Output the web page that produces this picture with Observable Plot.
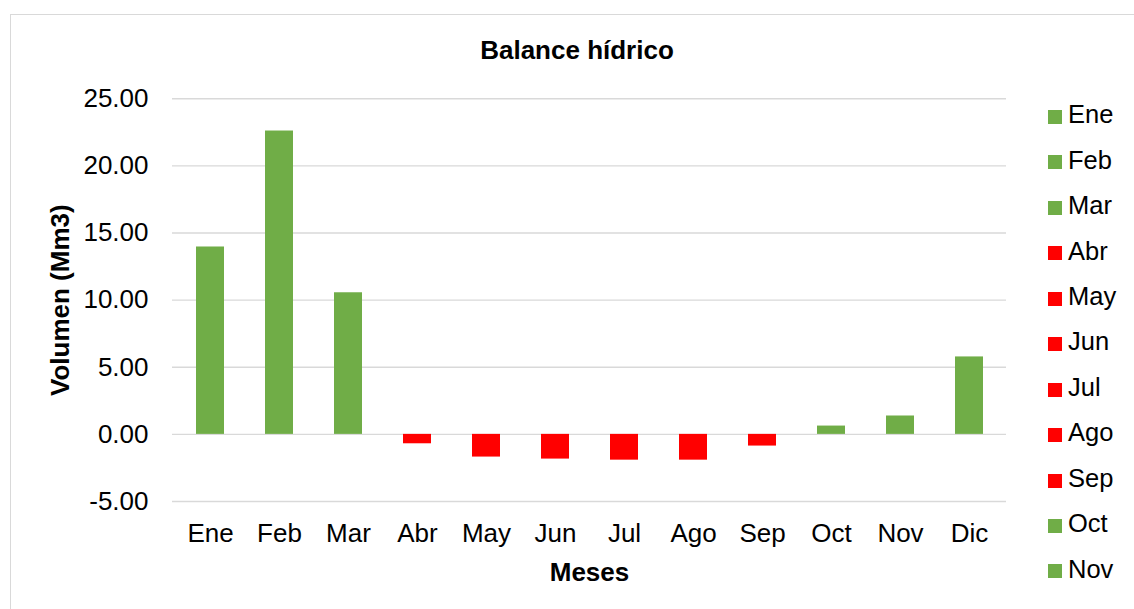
<!DOCTYPE html>
<html>
<head>
<meta charset="utf-8">
<script src="https://cdn.jsdelivr.net/npm/d3@7"></script>
<script src="https://cdn.jsdelivr.net/npm/@observablehq/plot@0.6"></script>
<style>
  html, body { margin: 0; padding: 0; background: #fff; }
  body { width: 1134px; height: 609px; overflow: hidden; position: relative;
         font-family: "Liberation Sans", Arial, sans-serif; color: #000; }
  #frame { position: absolute; left: 10px; top: 14px; width: 1200px; height: 700px;
           border: 1.5px solid #d9d9d9; box-sizing: border-box; }
  #chart { position: absolute; left: 0; top: 0; }
  #title { position: absolute; left: 0; top: 37px; width: 1154px; text-align: center;
           font-weight: bold; font-size: 26px; line-height: 1; margin: 0; }
  #legend { position: absolute; left: 1048px; top: 94.3px; }
  .item { display: flex; align-items: center; height: 45.45px; font-size: 25.5px; line-height: 1; }
  .sw { width: 14px; height: 14px; margin-right: 6px; flex: none; }
  .lab { position: relative; top: -2px; white-space: nowrap; }
</style>
</head>
<body>
<div id="frame"></div>
<div id="chart"></div>
<div id="title">Balance hídrico</div>
<div id="legend"></div>
<script>
const months = ["Ene", "Feb", "Mar", "Abr", "May", "Jun", "Jul", "Ago", "Sep", "Oct", "Nov", "Dic"];
const values = [13.96, 22.6, 10.55, -0.7, -1.69, -1.84, -1.92, -1.92, -0.87, 0.62, 1.37, 5.77];
const yTicks = [-5, 0, 5, 10, 15, 20, 25];
// legend entries visible in the reference (the last one is cut off by the chart box)
const legendMonths = ["Ene", "Feb", "Mar", "Abr", "May", "Jun", "Jul", "Ago", "Sep", "Oct", "Nov"];

const GREEN = "#70AD47";
const RED = "#FF0000";
const data = months.map((m, i) => ({ m, v: values[i] }));
const colorOf = d => (d.v >= 0 ? GREEN : RED);

const chart = Plot.plot({
  width: 1134,
  height: 609,
  marginLeft: 172,
  marginRight: 128,
  marginTop: 98.3,
  marginBottom: 108,
  style: { fontFamily: "'Liberation Sans', Arial, sans-serif", fontSize: "26px", color: "#000", background: "transparent", overflow: "visible" },
  x: { domain: months, paddingInner: 0.6, paddingOuter: 0.3, label: null },
  y: { domain: [-5, 25], label: null },
  marks: [
    Plot.gridY(yTicks, { stroke: "#d9d9d9", strokeOpacity: 1, strokeWidth: 1.4 }),
    Plot.barY(data, { x: "m", y: "v", fill: colorOf }),
    Plot.axisY(yTicks, { tickSize: 0, tickPadding: 24, tickFormat: d => d.toFixed(2), label: null, fontSize: 26 }),
    Plot.axisX({ tickSize: 0, tickPadding: 22.5, label: null, fontSize: 26 }),
    Plot.text(["Meses"], { text: d => d, frameAnchor: "bottom", dy: 79.5, textAnchor: "middle", fontWeight: "bold", fontSize: 26 }),
    Plot.text(["Volumen (Mm3)"], { text: d => d, frameAnchor: "left", dx: -112, textAnchor: "middle", rotate: -90, fontWeight: "bold", fontSize: 26 })
  ]
});
document.getElementById("chart").appendChild(chart);

const legend = document.getElementById("legend");
data.filter(d => legendMonths.includes(d.m)).forEach(d => {
  const item = document.createElement("div");
  item.className = "item";
  const sw = document.createElement("span");
  sw.className = "sw";
  sw.style.background = colorOf(d);
  const lab = document.createElement("span");
  lab.className = "lab";
  lab.textContent = d.m;
  item.appendChild(sw);
  item.appendChild(lab);
  legend.appendChild(item);
});
</script>
</body>
</html>
